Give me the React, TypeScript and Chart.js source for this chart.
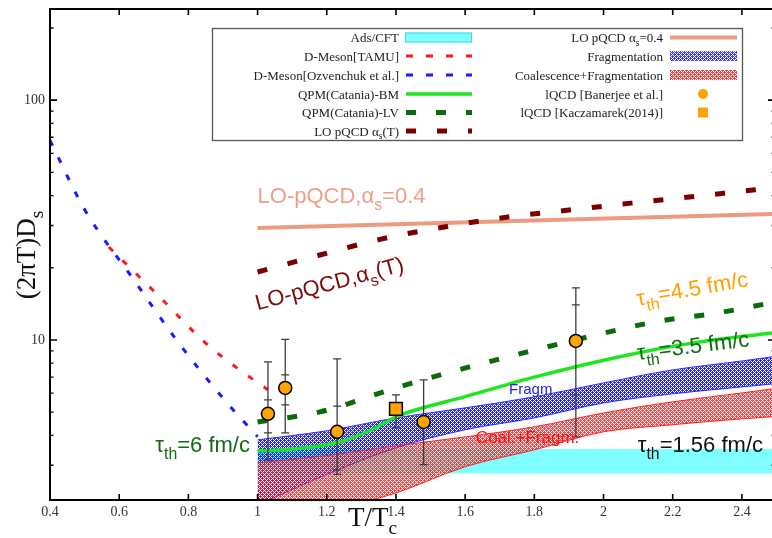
import { useEffect, useRef } from 'react';
import { Chart, registerables } from 'chart.js';
Chart.register(...registerables);

const SERIF = '"Liberation Serif", "Times New Roman", serif';
const SANS = '"Liberation Sans", Arial, sans-serif';

// ---- axes ----
const X_MIN = 0.4;
const X_MAX = 2.487;
const Y_MIN = 2.15;
const Y_MAX = 240;
const xTickValues = [0.4, 0.6, 0.8, 1.0, 1.2, 1.4, 1.6, 1.8, 2.0, 2.2, 2.4];
const yMajorValues = [10, 100];
const yMinorValues = [3, 4, 5, 6, 7, 8, 9, 20, 30, 40, 50, 60, 70, 80, 90, 200];

// ---- D-meson curves ----
const tamuT = [0.57, 0.7, 0.85, 0.94, 1.03];
const tamuD = [24.4, 16.0, 9.7, 7.65, 6.2];
const ozvT = [0.4, 0.5, 0.64, 0.77, 0.91, 1.0];
const ozvD = [68, 35, 18, 9.8, 5.5, 3.95];

// ---- QPM curves ----
const bmT = [1.0, 1.1, 1.24, 1.33, 1.4, 1.6, 1.8, 2.07, 2.26, 2.487];
const bmD = [3.45, 3.5, 3.76, 4.22, 4.78, 5.8, 7.0, 8.66, 9.72, 10.7];
const lvT = [1.0, 1.18, 1.4, 1.58, 1.98, 2.15, 2.33, 2.487];
const lvD = [4.55, 5.01, 6.31, 7.5, 10.5, 11.9, 12.96, 14.3];

// ---- LO pQCD ----
const asTT = [1.0, 1.18, 1.36, 1.54, 1.72, 1.9, 2.08, 2.27, 2.487];
const asTD = [19.2, 22.6, 26.4, 29.6, 32.5, 34.8, 37.2, 39.8, 43.0];
const as04T = [1.0, 2.487];
const as04D = [29.3, 33.5];

// ---- bands ----
const bandT = [1.0, 1.2, 1.4, 1.6, 1.8, 2.0, 2.2, 2.4, 2.487];
const fragHi = [3.83, 4.18, 4.73, 5.21, 5.79, 6.62, 7.5, 8.17, 8.5];
const fragLo = [2.05, 2.75, 3.55, 4.22, 4.73, 5.46, 5.96, 6.37, 6.55];
const coalHi = [3.07, 3.29, 3.62, 3.94, 4.34, 4.96, 5.52, 6.01, 6.25];
const coalLo = [1.62, 1.92, 2.3, 2.96, 3.48, 4.14, 4.43, 4.69, 4.78];
const adsT = [1.0, 2.487];
const adsHi = [3.51, 3.51];
const adsLo = [2.77, 2.77];

// ---- lattice QCD ----
const banT = [1.03, 1.08, 1.23, 1.48, 1.92];
const banD = [4.92, 6.31, 4.14, 4.55, 9.9];
const banHi = [8.1, 10.05, 8.33, 6.81, 16.5];
const banLo = [3.16, 4.1, 2.75, 3.02, 3.94];
const banHi2 = [5.62, 7.15, 5.3, null, 14.0];
const banLo2 = [4.1, 5.36, 2.87, null, 5.9];
const kacT = [1.4];
const kacD = [5.16];
const kacHi = [5.9];
const kacLo = [4.3];

type Part = [string, boolean];

const pts = (xs: number[], ys: number[]) => xs.map((x, i) => ({ x, y: ys[i] }));

function makePattern(ctx: CanvasRenderingContext2D, rgb: number[], alpha: number) {
  const c = document.createElement('canvas');
  c.width = 4;
  c.height = 4;
  const g = c.getContext('2d')!;
  const img = g.createImageData(4, 4);
  for (let j = 0; j < 4; j++) {
    for (let i = 0; i < 4; i++) {
      const hole = (i % 2 === 1 && j % 2 === 1) || (i === 0 && j === 2) || (i === 2 && j === 0);
      const k = (j * 4 + i) * 4;
      if (!hole) {
        img.data[k] = rgb[0];
        img.data[k + 1] = rgb[1];
        img.data[k + 2] = rgb[2];
        img.data[k + 3] = Math.round(alpha * 255);
      }
    }
  }
  g.putImageData(img, 0, 0);
  return ctx.createPattern(c, 'repeat')!;
}

function drawParts(
  ctx: CanvasRenderingContext2D,
  parts: Part[],
  x: number,
  y: number,
  size: number,
  family: string,
  color: string,
  align: 'left' | 'right' | 'center',
  angleDeg = 0
) {
  ctx.save();
  ctx.translate(x, y);
  ctx.rotate((angleDeg * Math.PI) / 180);
  const sub = size * 0.72;
  let w = 0;
  for (const [t, s] of parts) {
    ctx.font = `${s ? sub : size}px ${family}`;
    w += ctx.measureText(t).width;
  }
  let cx = align === 'right' ? -w : align === 'center' ? -w / 2 : 0;
  ctx.fillStyle = color;
  ctx.textAlign = 'left';
  ctx.textBaseline = 'alphabetic';
  for (const [t, s] of parts) {
    ctx.font = `${s ? sub : size}px ${family}`;
    ctx.fillText(t, cx, s ? size * 0.3 : 0);
    cx += ctx.measureText(t).width;
  }
  ctx.restore();
}

function line(label: string, xs: number[], ys: number[], color: string, width: number, dash: number[], order: number, extra: any = {}) {
  return {
    label,
    data: pts(xs, ys),
    borderColor: color,
    borderWidth: width,
    borderDash: dash,
    pointRadius: 0,
    fill: false,
    order,
    cubicInterpolationMode: 'monotone',
    ...extra,
  };
}

export default function App() {
  const ref = useRef<HTMLCanvasElement>(null);

  useEffect(() => {
    const canvas = ref.current!;
    const c0 = canvas.getContext('2d')!;
    const bluePat = makePattern(c0, [30, 30, 255], 0.95);
    const redPat = makePattern(c0, [255, 25, 25], 0.8);
    const bluePatL = makePattern(c0, [30, 30, 255], 0.85);
    const redPatL = makePattern(c0, [255, 25, 25], 0.85);

    const drawErr = (chart: any, xs: number[], lo: number[], hi: number[], lo2: (number | null)[], hi2: (number | null)[]) => {
      const { ctx, scales } = chart;
      const xs_ = scales.x;
      const ys_ = scales.y;
      ctx.save();
      ctx.strokeStyle = '#3c3c3c';
      ctx.lineWidth = 1.3;
      xs.forEach((t, i) => {
        const px = xs_.getPixelForValue(t);
        const a = ys_.getPixelForValue(hi[i]);
        const b = ys_.getPixelForValue(lo[i]);
        ctx.beginPath();
        ctx.moveTo(px, a);
        ctx.lineTo(px, b);
        const caps = [a, b];
        if (hi2[i] != null) caps.push(ys_.getPixelForValue(hi2[i]));
        if (lo2[i] != null) caps.push(ys_.getPixelForValue(lo2[i]));
        caps.forEach((cy) => {
          ctx.moveTo(px - 4, cy);
          ctx.lineTo(px + 4, cy);
        });
        ctx.stroke();
      });
      ctx.restore();
    };

    const overlay = {
      id: 'overlay',
      beforeDatasetDraw(chart: any, args: any) {
        if (args.index === 0) drawErr(chart, banT, banLo, banHi, banLo2, banHi2);
        if (args.index === 1) drawErr(chart, kacT, kacLo, kacHi, [null], [null]);
      },
      afterDatasetsDraw(chart: any) {
        const { ctx, chartArea, scales } = chart;
        const xs = scales.x;
        const ys = scales.y;
        const { left, right, top, bottom } = chartArea;
        const R = right + 3;
        ctx.save();
        // annotations
        const P = (t: number, d: number) => [xs.getPixelForValue(t), ys.getPixelForValue(d)];
        let p = P(1.0, 37.2);
        drawParts(ctx, [['LO-pQCD,α', false], ['s', true], ['=0.4', false]], p[0], p[1], 22, SANS, '#ef9f86', 'left');
        p = P(1.0, 13.3);
        drawParts(ctx, [['LO-pQCD,α', false], ['s', true], ['(T)', false]], p[0], p[1], 22, SANS, '#7d0a0a', 'left', -15);
        p = P(2.099, 13.9);
        drawParts(ctx, [['τ', false], ['th', true], ['=4.5 fm/c', false]], p[0], p[1], 22, SANS, '#ffa000', 'left', -10);
        p = P(2.099, 8.25);
        drawParts(ctx, [['τ', false], ['th', true], ['=3.5 fm/c', false]], p[0], p[1], 22, SANS, '#126b12', 'left', -7);
        p = P(0.978, 3.41);
        drawParts(ctx, [['τ', false], ['th', true], ['=6 fm/c', false]], p[0], p[1], 22, SANS, '#126b12', 'right');
        p = P(2.099, 3.41);
        drawParts(ctx, [['τ', false], ['th', true], ['=1.56 fm/c', false]], p[0], p[1], 22, SANS, '#111', 'left');
        p = P(1.727, 5.96);
        drawParts(ctx, [['Fragm', false]], p[0], p[1], 15, SANS, '#2222dd', 'left');
        p = P(1.631, 3.73);
        drawParts(ctx, [['Coal.+Fragm.', false]], p[0], p[1], 17, SANS, '#ff1010', 'left');

        // frame
        ctx.strokeStyle = '#000';
        ctx.lineWidth = 2;
        ctx.strokeRect(left, top, R - left, bottom - top);
        ctx.lineWidth = 1.6;
        ctx.beginPath();
        xTickValues.forEach((v) => {
          const px = xs.getPixelForValue(v);
          ctx.moveTo(px, bottom);
          ctx.lineTo(px, bottom - 6);
          ctx.moveTo(px, top);
          ctx.lineTo(px, top + 6);
        });
        yMajorValues.forEach((v) => {
          const py = ys.getPixelForValue(v);
          ctx.moveTo(left, py);
          ctx.lineTo(left + 7, py);
          ctx.moveTo(R, py);
          ctx.lineTo(R - 7, py);
        });
        ctx.stroke();
        ctx.lineWidth = 1.4;
        ctx.beginPath();
        yMinorValues.forEach((v) => {
          const py = ys.getPixelForValue(v);
          ctx.moveTo(left, py);
          ctx.lineTo(left + 3.5, py);
          ctx.moveTo(R, py);
          ctx.lineTo(R - 3.5, py);
        });
        ctx.stroke();

        // axis titles
        drawParts(ctx, [['T/T', false], ['c', true]], 348, 526, 27, SERIF, '#111', 'left');
        ctx.save();
        ctx.translate(35, 255);
        ctx.rotate(-Math.PI / 2);
        drawParts(ctx, [['(2πT)D', false], ['s', true]], 0, 0, 27, SERIF, '#111', 'center');
        ctx.restore();

        // legend
        const LX = 212, LY = 28, LW = 530, LH = 112;
        ctx.fillStyle = '#fff';
        ctx.fillRect(LX, LY, LW, LH);
        ctx.strokeStyle = '#555';
        ctx.lineWidth = 1.3;
        ctx.strokeRect(LX + 0.5, LY + 0.5, LW, LH);
        const rows = [37.5, 56, 75, 94, 112.5, 131];
        const sampleLine = (x1: number, x2: number, y: number, color: string, w: number, dash: number[]) => {
          ctx.save();
          ctx.strokeStyle = color;
          ctx.lineWidth = w;
          ctx.setLineDash(dash);
          ctx.beginPath();
          ctx.moveTo(x1, y);
          ctx.lineTo(x2, y);
          ctx.stroke();
          ctx.restore();
        };
        const leftRows: Part[][] = [
          [['Ads/CFT', false]],
          [['D-Meson[TAMU]', false]],
          [['D-Meson[Ozvenchuk et al.]', false]],
          [['QPM(Catania)-BM', false]],
          [['QPM(Catania)-LV', false]],
          [['LO pQCD α', false], ['s', true], ['(T)', false]],
        ];
        leftRows.forEach((parts, i) => drawParts(ctx, parts, 399, rows[i] + 4.5, 13, SERIF, '#222', 'right'));
        ctx.fillStyle = 'rgba(0,255,255,0.5)';
        ctx.fillRect(405, rows[0] - 5, 67, 10);
        ctx.strokeStyle = '#3ad8e8';
        ctx.lineWidth = 1;
        ctx.strokeRect(405.5, rows[0] - 4.5, 66, 9);
        sampleLine(406, 472, rows[1], '#ff1a1a', 3, [7, 13]);
        sampleLine(406, 472, rows[2], '#1a1aff', 3, [7, 13]);
        sampleLine(406, 472, rows[3], '#1ee61e', 3.5, []);
        sampleLine(406, 472, rows[4], '#0b6b0b', 5, [10, 20]);
        sampleLine(406, 472, rows[5], '#7a0000', 5, [10, 21]);

        const rightRows: Part[][] = [
          [['LO pQCD α', false], ['s', true], ['=0.4', false]],
          [['Fragmentation', false]],
          [['Coalescence+Fragmentation', false]],
          [['lQCD [Banerjee et al.]', false]],
          [['lQCD [Kaczamarek(2014)]', false]],
        ];
        rightRows.forEach((parts, i) => drawParts(ctx, parts, 663, rows[i] + 4.5, 13, SERIF, '#222', 'right'));
        sampleLine(670, 737, rows[0], '#ec9a80', 4, []);
        ctx.fillStyle = bluePatL;
        ctx.fillRect(670, rows[1] - 5, 67, 10);
        ctx.fillStyle = redPatL;
        ctx.fillRect(670, rows[2] - 5, 67, 10);
        ctx.fillStyle = '#ffa500';
        ctx.beginPath();
        ctx.arc(703, rows[3], 5, 0, Math.PI * 2);
        ctx.fill();
        ctx.fillRect(698, rows[4] - 5, 10, 10);
        ctx.restore();
      },
    };

    const chart = new Chart(canvas, {
      type: 'line',
      data: {
        datasets: [
          {
            label: 'lQCD [Banerjee et al.]',
            data: pts(banT, banD),
            showLine: false,
            pointStyle: 'circle',
            pointRadius: 6.5,
            pointBackgroundColor: '#ffa500',
            pointBorderColor: '#000',
            pointBorderWidth: 1.5,
            order: 0,
          },
          {
            label: 'lQCD [Kaczamarek(2014)]',
            data: pts(kacT, kacD),
            showLine: false,
            pointStyle: 'rect',
            pointRadius: 9,
            pointBackgroundColor: '#ffa500',
            pointBorderColor: '#000',
            pointBorderWidth: 1.5,
            order: 1,
          },
          line('D-Meson[TAMU]', tamuT, tamuD, '#ff1a1a', 3, [6, 13], 2),
          line('D-Meson[Ozvenchuk et al.]', ozvT, ozvD, '#1a1aff', 3, [6, 13], 3),
          line('QPM(Catania)-BM', bmT, bmD, '#1ee61e', 3.5, [], 4),
          line('QPM(Catania)-LV', lvT, lvD, '#0b6b0b', 5, [10, 20], 5),
          line('LO pQCD as(T)', asTT, asTD, '#7a0000', 5, [10, 21], 6),
          line('LO pQCD as=0.4', as04T, as04D, '#ec9a80', 4, [], 7),
          line('Coal hi', bandT, coalHi, '#ff2020', 1, [], 8, { fill: '+1', backgroundColor: redPat }),
          line('Coal lo', bandT, coalLo, '#ff2020', 1, [], 9),
          line('Frag hi', bandT, fragHi, '#3030ff', 1, [], 10, { fill: '+1', backgroundColor: bluePat }),
          line('Frag lo', bandT, fragLo, '#3030ff', 1, [], 11),
          line('Ads hi', adsT, adsHi, 'rgba(0,0,0,0)', 0, [], 12, { fill: '+1', backgroundColor: 'rgba(0,255,255,0.5)' }),
          line('Ads lo', adsT, adsLo, 'rgba(0,0,0,0)', 0, [], 13),
        ] as any,
      },
      options: {
        responsive: false,
        animation: false,
        layout: { autoPadding: false, padding: { top: 9, right: 0, left: 0, bottom: 0 } },
        plugins: { legend: { display: false }, tooltip: { enabled: false } },
        scales: {
          x: {
            type: 'linear',
            min: X_MIN,
            max: X_MAX,
            afterBuildTicks: (s: any) => {
              s.ticks = xTickValues.map((v) => ({ value: v }));
            },
            afterFit: (s: any) => {
              s.height = 38;
              s.paddingLeft = 0;
              s.paddingRight = 0;
            },
            grid: { display: false, drawTicks: false },
            border: { display: false },
            ticks: {
              autoSkip: false,
              maxRotation: 0,
              padding: 4,
              color: '#333',
              font: { family: SERIF, size: 14 },
              callback: (v: any) => String(+Number(v).toFixed(1)),
            },
          },
          y: {
            type: 'logarithmic',
            min: Y_MIN,
            max: Y_MAX,
            afterBuildTicks: (s: any) => {
              s.ticks = [...yMinorValues, ...yMajorValues].sort((a, b) => a - b).map((v) => ({ value: v }));
            },
            afterFit: (s: any) => {
              s.width = 50;
              s.paddingTop = 0;
              s.paddingBottom = 0;
            },
            grid: { display: false, drawTicks: false },
            border: { display: false },
            ticks: {
              autoSkip: false,
              padding: 5,
              color: '#333',
              font: { family: SERIF, size: 14 },
              callback: (v: any) => (v === 10 || v === 100 ? String(v) : ''),
            },
          },
        },
      } as any,
      plugins: [overlay],
    });
    return () => chart.destroy();
  }, []);

  return (
    <canvas
      ref={ref}
      width={772}
      height={538}
      style={{ position: 'absolute', left: 0, top: 0, width: 772, height: 538, display: 'block' }}
    />
  );
}
